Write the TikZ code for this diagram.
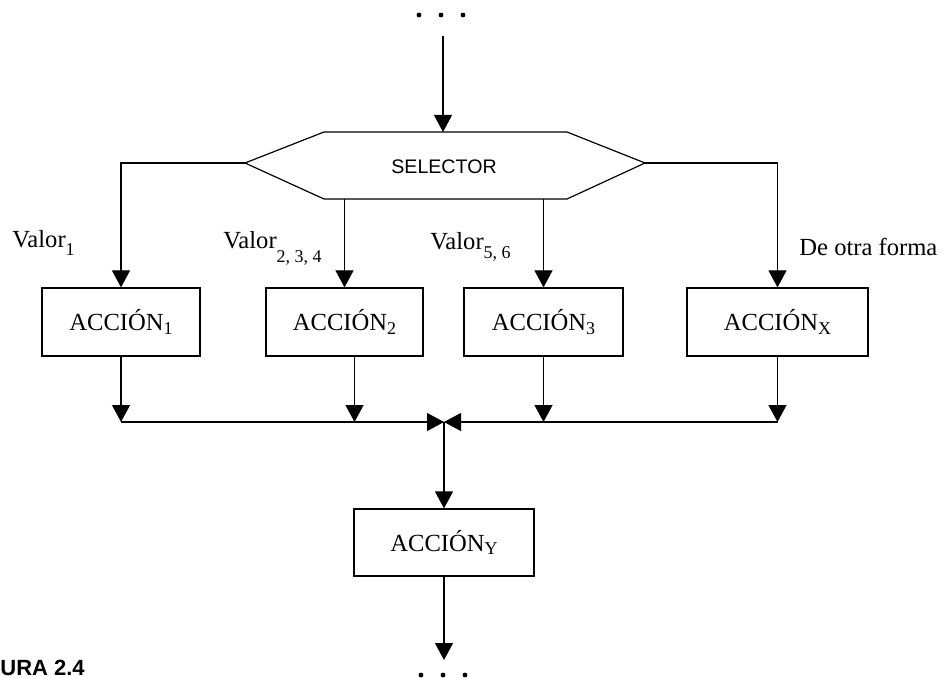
\documentclass[tikz,border=0pt]{standalone}
\usepackage{fontspec}
\setmainfont{Liberation Serif}
\setsansfont{Liberation Sans}
\usetikzlibrary{arrows.meta}
\newcommand{\sub}[2][0pt]{\raisebox{-#1}{\fontsize{9}{9}\selectfont #2}}
\tikzset{
	seta/.style={-{Triangle[width=9pt,length=8.5pt]}, line width=0.6pt},
	caixa/.style={draw, line width=0.6pt, minimum height=34pt, inner sep=0pt},
	rotulo/.style={anchor=base west, inner sep=0pt}
}
\begin{document}
\begin{tikzpicture}[x=0.5pt,y=-0.5pt, font=\fontsize{12.3}{14}\selectfont] %Unidades em pixels
					\useasboundingbox (0,0) rectangle (951,678); %Margens
						%Pontos de entrada
					\foreach \px in {419,441,463} \fill (\px,15) circle[radius=1.2pt];
					\coordinate (topo) at (443,36);
						%Seletor
					\draw[line width=0.6pt] (245,163) coordinate (selO) -- (324,132) -- (567,132) -- (645,163) coordinate (selL) -- (567,199) -- (324,199) -- cycle;
					\node[font=\sffamily\fontsize{9.8}{10}\selectfont] (sel) at (444,167) {SELECTOR};
					\coordinate (selN) at (443,132);
					\coordinate (selS) at (444,199);
					\draw[seta] (topo) -- (selN);
						%Acoes
					\node[caixa, minimum width=79pt] (acc1) at (121,322) {ACCIÓN\sub[1.7pt]{1}};
					\node[caixa, minimum width=78.5pt] (acc2) at (344.5,322) {ACCIÓN\sub[1.7pt]{2}};
					\node[caixa, minimum width=79.5pt] (acc3) at (543.5,322) {ACCIÓN\sub[1.7pt]{3}};
					\node[caixa, minimum width=90.5pt] (accx) at (777.5,322) {ACCIÓN\sub[1.7pt]{X}};
					\node[caixa, minimum width=90pt, minimum height=33.5pt] (accy) at (444,542.5) {ACCIÓN\sub[1.7pt]{Y}};
						%Valores
					\node[rotulo] (v1) at (12,248) {Valor\sub[4pt]{1}};
					\node[rotulo] (v2) at (223,249) {Valor\sub[7pt]{2, 3, 4}};
					\node[rotulo] (v3) at (430,250) {Valor\sub[4.5pt]{5, 6}};
					\node[rotulo] (v4) at (799,256) {De otra forma};
						%Ramos
					\draw[seta] (selO) -| (acc1.north);
					\draw[seta] (selL) -| (accx.north);
					\draw[seta] (selS -| acc2.north) -- (acc2.north);
					\draw[seta] (selS -| acc3.north) -- (acc3.north);
						%Juncao
					\coordinate (jun) at (444,422);
					\draw[seta] (acc1.south) -- (acc1.south |- jun);
					\draw[seta] ([xshift=5pt]acc2.south) -- ([xshift=5pt]acc2.south |- jun);
					\draw[seta] (acc3.south) -- (acc3.south |- jun);
					\draw[seta] (accx.south) -- (accx.south |- jun);
					\draw[seta] (acc1.south |- jun) -- (jun);
					\draw[seta] (accx.south |- jun) -- (jun);
					\draw[seta] (jun) -- (accy.north);
						%Saida
					\coordinate (fim) at (444,660);
					\draw[seta] (accy.south) -- (fim);
					\foreach \px in {421,443,465} \fill (\px,675) circle[radius=1.2pt];
					\node[anchor=south west, inner sep=0pt, font=\sffamily\bfseries\fontsize{11}{11}\selectfont] (fig) at (0,676) {URA 2.4};
				\end{tikzpicture}
\end{document}
